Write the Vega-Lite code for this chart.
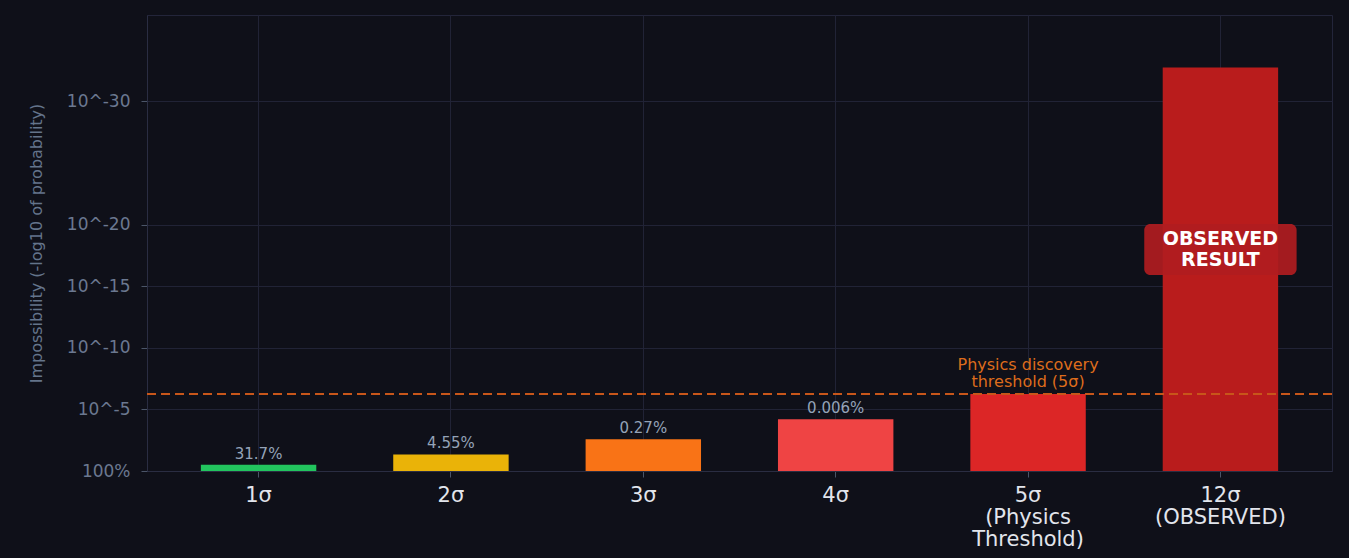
{
  "$schema": "https://vega.github.io/schema/vega-lite/v6.json",
  "width": 1185,
  "height": 456,
  "autosize": {"type": "none"},
  "padding": {"left": 147, "top": 15, "right": 17, "bottom": 87},
  "background": "#0f1019",
  "config": {
    "font": "DejaVu Sans",
    "view": {"stroke": "#23253a", "strokeWidth": 1},
    "axis": {"gridColor": "#212336", "domainColor": "#2a2d42", "tickColor": "#4b5568"}
  },
  "datasets": {
    "bars": [
      {"sigma": "1σ", "impossibility": 0.4985, "label": "31.7%"},
      {"sigma": "2σ", "impossibility": 1.342, "label": "4.55%"},
      {"sigma": "3σ", "impossibility": 2.57, "label": "0.27%"},
      {"sigma": "4σ", "impossibility": 4.2, "label": "0.006%"},
      {"sigma": "5σ\n(Physics\nThreshold)", "impossibility": 6.24, "label": ""},
      {"sigma": "12σ\n(OBSERVED)", "impossibility": 32.75, "label": ""}
    ],
    "threshold": [
      {"sigma": "5σ\n(Physics\nThreshold)", "value": 6.24, "text": "Physics discovery\nthreshold (5σ)"}
    ],
    "callout": [
      {"sigma": "12σ\n(OBSERVED)", "lo": 15.9, "hi": 20.05, "mid": 17.95, "text": "OBSERVED\nRESULT"}
    ]
  },
  "encoding": {
    "x": {
      "field": "sigma",
      "type": "nominal",
      "sort": ["1σ", "2σ", "3σ", "4σ", "5σ\n(Physics\nThreshold)", "12σ\n(OBSERVED)"],
      "scale": {"paddingInner": 0.4, "paddingOuter": 0.28},
      "axis": {
        "title": null,
        "labelAngle": 0,
        "labelExpr": "split(datum.label, '\\n')",
        "labelColor": "#e2e5ec",
        "labelFontSize": 21,
        "labelLineHeight": 22,
        "labelPadding": 7,
        "tickSize": 6,
        "bandPosition": 0.5,
        "grid": true
      }
    }
  },
  "layer": [
    {
      "data": {"name": "bars"},
      "mark": {"type": "bar"},
      "encoding": {
        "y": {
          "field": "impossibility",
          "type": "quantitative",
          "scale": {"domain": [0, 37], "nice": false, "zero": true},
          "axis": {
            "title": "Impossibility (-log10 of probability)",
            "titleColor": "#64748b",
            "titleFontSize": 16,
            "titleFontWeight": "normal",
            "titlePadding": 22,
            "values": [0, 5, 10, 15, 20, 30],
            "labelExpr": "datum.value == 0 ? '100%' : '10^-' + datum.value",
            "labelColor": "#6b7890",
            "labelFontSize": 17,
            "labelPadding": 11,
            "tickSize": 6,
            "grid": true
          }
        },
        "color": {
          "field": "sigma",
          "type": "nominal",
          "scale": {
            "domain": ["1σ", "2σ", "3σ", "4σ", "5σ\n(Physics\nThreshold)", "12σ\n(OBSERVED)"],
            "range": ["#22c55e", "#eab308", "#f97316", "#ef4444", "#dc2626", "#b91c1c"]
          },
          "legend": null
        }
      }
    },
    {
      "data": {"name": "bars"},
      "mark": {"type": "text", "baseline": "bottom", "dy": -3, "fontSize": 15, "color": "#94a3b8"},
      "encoding": {
        "y": {"field": "impossibility", "type": "quantitative"},
        "text": {"field": "label"}
      }
    },
    {
      "data": {"name": "threshold"},
      "mark": {"type": "rule", "color": "#c8561a", "strokeWidth": 2, "strokeDash": [9, 5]},
      "encoding": {
        "x": null,
        "y": {"field": "value", "type": "quantitative"}
      }
    },
    {
      "data": {"name": "threshold"},
      "mark": {"type": "text", "baseline": "alphabetic", "dy": -24, "fontSize": 16, "color": "#dd6c1c", "lineBreak": "\n", "lineHeight": 17},
      "encoding": {
        "y": {"field": "value", "type": "quantitative"},
        "text": {"field": "text"}
      }
    },
    {
      "data": {"name": "callout"},
      "mark": {"type": "bar", "width": {"band": 1.32}, "cornerRadius": 6, "color": "#b01c1f", "opacity": 0.92},
      "encoding": {
        "y": {"field": "lo", "type": "quantitative"},
        "y2": {"field": "hi"}
      }
    },
    {
      "data": {"name": "callout"},
      "mark": {"type": "text", "baseline": "alphabetic", "dy": -5, "fontSize": 19, "fontWeight": "bold", "color": "#ffffff", "lineBreak": "\n", "lineHeight": 21},
      "encoding": {
        "y": {"field": "mid", "type": "quantitative"},
        "text": {"field": "text"}
      }
    }
  ]
}
